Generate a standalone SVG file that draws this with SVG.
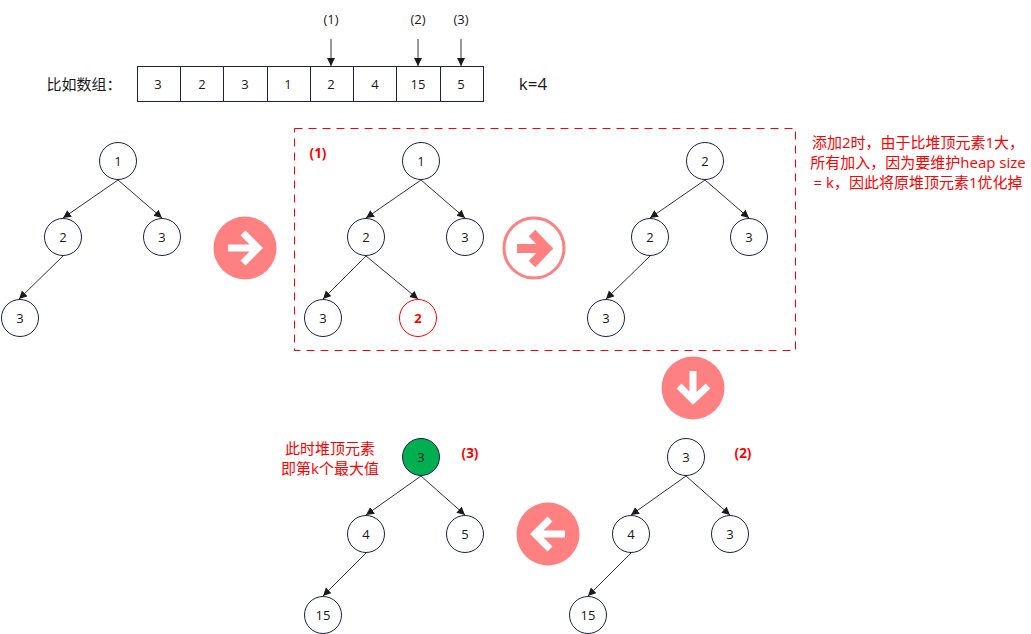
<svg xmlns="http://www.w3.org/2000/svg" width="1031" height="634" viewBox="0 0 1031 634">
<style>
text{font-family:"Open Sans","Noto Sans CJK SC",sans-serif;text-anchor:middle;dominant-baseline:central}
.n{fill:#fff;stroke:#1a1f4d;stroke-width:1}
.t{font-size:13px;fill:#1a1a1a}
.c{fill:#fff;stroke:#1a1f4d;stroke-width:1}
.l{stroke:#333;stroke-width:1;fill:none;marker-end:url(#a)}
.b{fill:#ff8080}
.w{fill:none;stroke:#fff;stroke-width:7}
.r{fill:#ff0000;font-size:15px}
.rb{fill:#ff0000;font-size:13.500px;font-weight:700}
</style>
<defs><marker id="a" markerUnits="userSpaceOnUse" markerWidth="9" markerHeight="9" refX="8" refY="4" orient="auto"><path d="M0 0L8 4L0 8Z" fill="#1a1a1a"/></marker></defs>
<g id="connectors">
<path class="l" d="M331 39V66"/><path class="l" d="M418 39V66"/><path class="l" d="M461 39V66"/>
<path class="l" d="M118 180L63 218"/><path class="l" d="M118 180L162 218"/><path class="l" d="M63 256L19 299"/>
<path class="l" d="M421 180L366 218"/><path class="l" d="M421 180L465 218"/><path class="l" d="M366 256L323 299"/><path class="l" d="M366 256L418 299"/>
<path class="l" d="M705 180L650 218"/><path class="l" d="M705 180L749 218"/><path class="l" d="M650 256L606 299"/>
<path class="l" d="M421 476L366 515"/><path class="l" d="M421 476L465 515"/><path class="l" d="M366 553L323 596"/>
<path class="l" d="M686 476L631 515"/><path class="l" d="M686 476L730 515"/><path class="l" d="M631 553L588 596"/>
</g>
<g id="array">
<rect class="c" x="137.500" y="66.500" width="43" height="35"/><text class="t" x="158" y="84">3</text>
<rect class="c" x="180.500" y="66.500" width="43" height="35"/><text class="t" x="202" y="84">2</text>
<rect class="c" x="223.500" y="66.500" width="44" height="35"/><text class="t" x="245" y="84">3</text>
<rect class="c" x="267.500" y="66.500" width="43" height="35"/><text class="t" x="288" y="84">1</text>
<rect class="c" x="310.500" y="66.500" width="43" height="35"/><text class="t" x="331" y="84">2</text>
<rect class="c" x="353.500" y="66.500" width="43" height="35"/><text class="t" x="375" y="84">4</text>
<rect class="c" x="396.500" y="66.500" width="44" height="35"/><text class="t" x="418" y="84">15</text>
<rect class="c" x="440.500" y="66.500" width="43" height="35"/><text class="t" x="461" y="84">5</text>
</g>
<text x="84" y="84" font-size="15" fill="#1a1a1a">比如数组：</text>
<text x="533" y="83.500" font-size="17" fill="#1a1a1a">k=4</text>
<text class="t" x="331" y="19">(1)</text><text class="t" x="418" y="19">(2)</text><text class="t" x="461" y="19">(3)</text>
<g id="tree1">
<g id="t1a"><circle class="n" cx="118" cy="161" r="18.500"/><text class="t" x="118" y="161">1</text></g>
<g id="t1b"><circle class="n" cx="63" cy="237" r="18.500"/><text class="t" x="63" y="237">2</text></g>
<g id="t1c"><circle class="n" cx="162" cy="237" r="18.500"/><text class="t" x="162" y="237">3</text></g>
<g id="t1d"><circle class="n" cx="20" cy="318" r="18.500"/><text class="t" x="20" y="318">3</text></g>
</g>
<rect id="frame" x="294.500" y="128.500" width="501" height="222" fill="none" stroke="#ff0000" stroke-dasharray="8 6"/>
<text class="rb" x="318" y="153">(1)</text>
<g id="tree2">
<g id="t2a"><circle class="n" cx="421" cy="161" r="18.500"/><text class="t" x="421" y="161">1</text></g>
<g id="t2b"><circle class="n" cx="366" cy="237" r="18.500"/><text class="t" x="366" y="237">2</text></g>
<g id="t2c"><circle class="n" cx="465" cy="237" r="18.500"/><text class="t" x="465" y="237">3</text></g>
<g id="t2d"><circle class="n" cx="323" cy="318" r="18.500"/><text class="t" x="323" y="318">3</text></g>
<g id="t2e"><circle class="n" cx="418" cy="318" r="18.500" style="stroke:#ff0000"/><text x="418" y="318" font-size="13" font-weight="700" fill="#ff0000">2</text></g>
</g>
<g id="tree3">
<g id="t3a"><circle class="n" cx="705" cy="161" r="18.500"/><text class="t" x="705" y="161">2</text></g>
<g id="t3b"><circle class="n" cx="650" cy="237" r="18.500"/><text class="t" x="650" y="237">2</text></g>
<g id="t3c"><circle class="n" cx="749" cy="237" r="18.500"/><text class="t" x="749" y="237">3</text></g>
<g id="t3d"><circle class="n" cx="606" cy="318" r="18.500"/><text class="t" x="606" y="318">3</text></g>
</g>
<g id="tree4">
<g id="t4a"><circle class="n" cx="421" cy="457" r="18.500" style="fill:#00b050"/><text class="t" x="421" y="457">3</text></g>
<g id="t4b"><circle class="n" cx="366" cy="534" r="18.500"/><text class="t" x="366" y="534">4</text></g>
<g id="t4c"><circle class="n" cx="465" cy="534" r="18.500"/><text class="t" x="465" y="534">5</text></g>
<g id="t4d"><circle class="n" cx="323" cy="615" r="18.500"/><text class="t" x="323" y="615">15</text></g>
</g>
<g id="tree5">
<g id="t5a"><circle class="n" cx="686" cy="457" r="18.500"/><text class="t" x="686" y="457">3</text></g>
<g id="t5b"><circle class="n" cx="631" cy="534" r="18.500"/><text class="t" x="631" y="534">4</text></g>
<g id="t5c"><circle class="n" cx="730" cy="534" r="18.500"/><text class="t" x="730" y="534">3</text></g>
<g id="t5d"><circle class="n" cx="588" cy="615" r="18.500"/><text class="t" x="588" y="615">15</text></g>
</g>
<g id="arrow1"><circle class="b" cx="245" cy="248" r="31.500"/><path class="w" d="M228 248H258M243 233L258 248L243 263"/></g>
<g id="arrow2"><circle cx="534" cy="248" r="30" fill="#fff" stroke="#ff8080" stroke-width="3"/><path fill="none" stroke="#ff8080" stroke-width="9" d="M517 248.500H546M532 233L547 248.500L532 264"/></g>
<g id="arrow3"><circle class="b" cx="693" cy="388" r="31.500"/><path class="w" d="M693 371V400M679 386L693 400L708 386"/></g>
<g id="arrow4"><circle class="b" cx="548" cy="534" r="31.500"/><path class="w" d="M565 534H535M550 519L535 534L550 549"/></g>
<g class="r">
<text class="r" x="918" y="142">添加2时，由于比堆顶元素1大，</text>
<text class="r" x="918" y="162">所有加入，因为要维护heap size</text>
<text class="r" x="918" y="182">= k，因此将原堆顶元素1优化掉</text>
<text class="r" x="330" y="448">此时堆顶元素</text>
<text class="r" x="330" y="468">即第k个最大值</text>
</g>
<text class="rb" x="470" y="453">(3)</text>
<text class="rb" x="743" y="453">(2)</text>
</svg>
